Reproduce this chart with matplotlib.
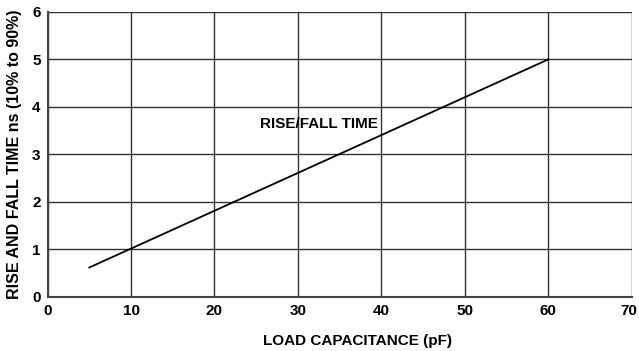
import matplotlib
matplotlib.use("Agg")
import matplotlib.pyplot as plt
from matplotlib.transforms import ScaledTranslation

cap_pf = [5, 60]
rise_ns = [0.62, 5.0]
x_ticks = [0, 10, 20, 30, 40, 50, 60, 70]
y_ticks = [0, 1, 2, 3, 4, 5, 6]
curve_label = "RISE/FALL TIME"
x_label = "LOAD CAPACITANCE (pF)"
y_label = "RISE AND FALL TIME ns (10% to 90%)"

plt.rcParams['font.family'] = ['Liberation Sans', 'DejaVu Sans']
plt.rcParams['font.weight'] = 'bold'

fig = plt.figure(figsize=(6.39, 3.51), dpi=100)
ax = fig.add_axes([0.0745, 0.154, 0.914, 0.812])
ax.plot(cap_pf, rise_ns, color='black', lw=1.3, zorder=3)
ax.set_xlim(0, 70)
ax.set_ylim(0, 6)
ax.set_xticks(x_ticks)
ax.set_yticks(y_ticks)
ax.grid(True, color='#333333', lw=1.0)
ax.set_axisbelow(True)
for s in ['top', 'right']:
    ax.spines[s].set_visible(False)
for s in ['left', 'bottom']:
    ax.spines[s].set_linewidth(1.5)
    ax.spines[s].set_color('#444444')
ax.tick_params(length=0, labelsize=11, pad=5)
for lab in ax.get_xticklabels() + ax.get_yticklabels():
    lab.set_fontweight('bold')
last = ax.get_xticklabels()[-1]
last.set_transform(last.get_transform() + ScaledTranslation(-3 / 100, 0, fig.dpi_scale_trans))
ax.set_xlabel(x_label, fontsize=11, fontweight='bold', labelpad=11)
ax.xaxis.set_label_coords(0.53, -0.13)
ax.set_ylabel(y_label, fontsize=11.5, fontweight='bold', labelpad=7)
ax.text(25.5, 3.64, curve_label, fontsize=11, fontweight='bold', va='center', ha='left')
fig.savefig("out.png", dpi=100)
